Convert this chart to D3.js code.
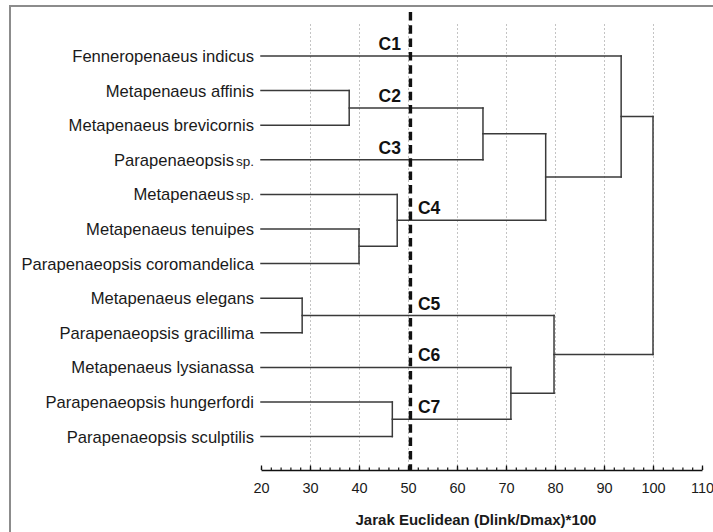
<!DOCTYPE html>
<html><head><meta charset="utf-8">
<script src="https://cdn.jsdelivr.net/npm/d3@7/dist/d3.min.js"></script>
<style>body{margin:0;background:#fff;}svg{display:block;}</style>
</head><body><svg id="c" width="713" height="532"></svg>
<script>
// ---- data ----
const leaves = [
  ["Fenneropenaeus indicus", ""],
  ["Metapenaeus affinis", ""],
  ["Metapenaeus brevicornis", ""],
  ["Parapenaeopsis", "sp."],
  ["Metapenaeus", "sp."],
  ["Metapenaeus tenuipes", ""],
  ["Parapenaeopsis coromandelica", ""],
  ["Metapenaeus elegans", ""],
  ["Parapenaeopsis gracillima", ""],
  ["Metapenaeus lysianassa", ""],
  ["Parapenaeopsis hungerfordi", ""],
  ["Parapenaeopsis sculptilis", ""]
];
// merges: [childA, childB, height]; new node ids start at leaves.length
const mergeA = [7, 1, 5, 10, 4, 13, 9, 17, 12, 0, 21];
const mergeB = [8, 2, 6, 11, 14, 3, 15, 16, 18, 19, 20];
const mergeH = [28.4, 38, 40, 46.8, 47.8, 65.3, 71, 78.1, 79.8, 93.5, 100];
const cutValue = 50.5;
const clusterNames = ["C1", "C2", "C3", "C4", "C5", "C6", "C7"];
const clusterNodes = [0, 13, 3, 16, 12, 9, 15];
const clusterSide = ["left", "left", "left", "right", "right", "right", "right"];
const xTickValues = [20, 30, 40, 50, 60, 70, 80, 90, 100, 110];
const gridValues = [30, 40, 50, 60, 70, 80, 90, 100];
const axisTitle = "Jarak Euclidean (Dlink/Dmax)*100";

// ---- scales ----
const svg = d3.select("#c");
const x = d3.scaleLinear().domain([20, 110]).range([261, 702]);
const y = d3.scaleLinear().domain([0, leaves.length - 1]).range([56, 436.6]);
const axisY = 470;

// border
svg.append("rect").attr("x", 10).attr("y", 6).attr("width", 740).attr("height", 560)
  .attr("fill", "none").attr("stroke", "#8c8c8c").attr("stroke-width", 2);

// grid
svg.append("g").selectAll("line").data(gridValues).join("line")
  .attr("x1", d => Math.round(x(d)) + 0.5).attr("x2", d => Math.round(x(d)) + 0.5)
  .attr("y1", 24).attr("y2", axisY)
  .attr("stroke", "#c4c4c4").attr("stroke-width", 1).attr("stroke-dasharray", "2,2");

// node positions
const nodeX = leaves.map(() => x(20));
const nodeY = leaves.map((d, i) => y(i));
mergeH.forEach((h, k) => {
  const a = mergeA[k], b = mergeB[k];
  nodeX.push(x(h));
  nodeY.push((nodeY[a] + nodeY[b]) / 2);
});

const segs = [];
mergeH.forEach((h, k) => {
  const id = leaves.length + k, a = mergeA[k], b = mergeB[k];
  const xm = nodeX[id];
  segs.push([nodeX[a], nodeY[a], xm, nodeY[a]]);
  segs.push([nodeX[b], nodeY[b], xm, nodeY[b]]);
  segs.push([xm, nodeY[a], xm, nodeY[b]]);
});
svg.append("g").selectAll("line").data(segs).join("line")
  .attr("x1", d => d[0]).attr("y1", d => d[1]).attr("x2", d => d[2]).attr("y2", d => d[3])
  .attr("stroke", "#3a3a3a").attr("stroke-width", 1.5).attr("stroke-linecap", "square");

// leaf labels
const lab = svg.append("g").attr("font-family", "'Liberation Sans', Arial, sans-serif")
  .attr("fill", "#1a1a1a");
leaves.forEach((d, i) => {
  const t = lab.append("text").attr("x", 254).attr("y", y(i)).attr("dy", "0.36em")
    .attr("text-anchor", "end").attr("font-size", 16.6);
  t.append("tspan").text(d[0]);
  if (d[1]) t.append("tspan").attr("font-size", 13.5).attr("dx", 2).text(d[1]);
});

// axis
const gMinor = svg.append("g").attr("transform", `translate(0,${axisY})`)
  .call(d3.axisBottom(x).tickValues(d3.range(20, 111, 2)).tickSizeInner(-2.5).tickSizeOuter(0).tickFormat(""));
gMinor.select(".domain").remove();
gMinor.selectAll("line").attr("stroke", "#111").attr("stroke-width", 1.2);
const gAxis = svg.append("g").attr("transform", `translate(0,${axisY})`)
  .call(d3.axisBottom(x).tickValues(xTickValues).tickSizeInner(-4.5).tickSizeOuter(0).tickPadding(12.5));
gAxis.select(".domain").attr("stroke", "#111").attr("stroke-width", 1.6);
gAxis.selectAll("line").attr("stroke", "#111").attr("stroke-width", 1.3);
gAxis.selectAll("text").attr("font-family", "'Liberation Sans', Arial, sans-serif")
  .attr("font-size", 14.5).attr("fill", "#1a1a1a");

svg.append("text").attr("x", 476).attr("y", 525).attr("text-anchor", "middle")
  .attr("font-family", "'Liberation Sans', Arial, sans-serif").attr("font-weight", "bold")
  .attr("font-size", 15).attr("fill", "#1a1a1a").text(axisTitle);

// cut line
svg.append("line").attr("x1", x(cutValue)).attr("x2", x(cutValue)).attr("y1", 12).attr("y2", axisY)
  .attr("stroke", "#111").attr("stroke-width", 3.4).attr("stroke-dasharray", "8.5,4.8");

// cluster labels
const cl = svg.append("g").attr("font-family", "'Liberation Sans', Arial, sans-serif")
  .attr("font-weight", "bold").attr("font-size", 17.5).attr("fill", "#111");
clusterNames.forEach((c, i) => {
  const left = clusterSide[i] === "left";
  cl.append("text").attr("x", x(cutValue) + (left ? -9.5 : 7.5)).attr("y", nodeY[clusterNodes[i]] - 6)
    .attr("text-anchor", left ? "end" : "start").text(c);
});
</script></body></html>
